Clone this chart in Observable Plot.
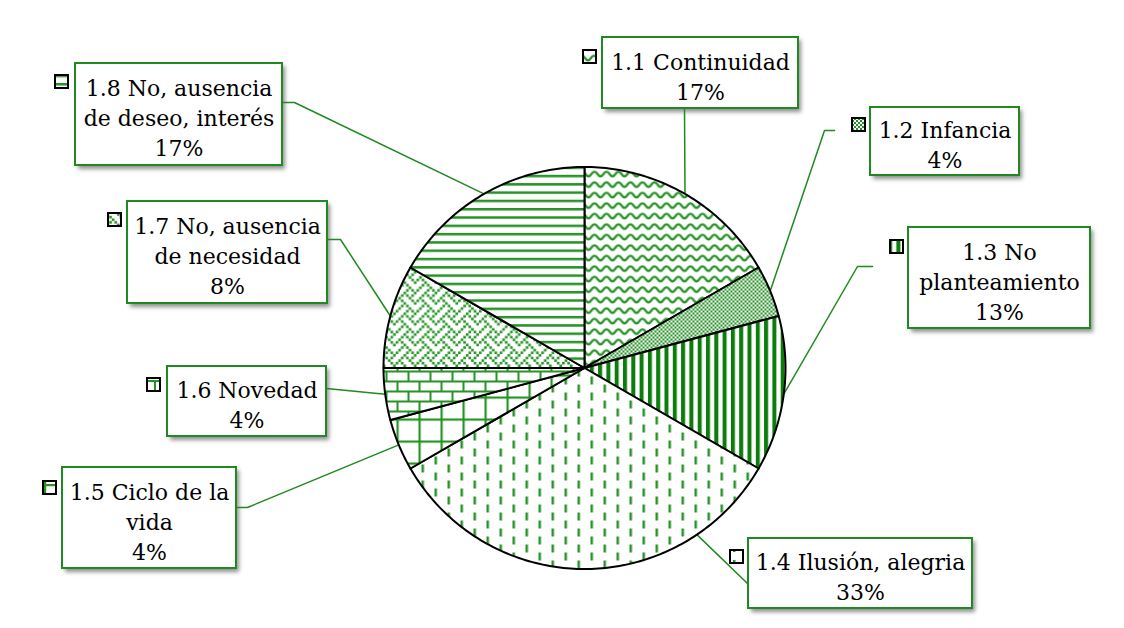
<!DOCTYPE html>
<html>
<head>
<meta charset="utf-8">
<script src="https://cdn.jsdelivr.net/npm/d3@7"></script>
<script src="https://cdn.jsdelivr.net/npm/@observablehq/plot@0.6"></script>
<style>
  html, body { margin: 0; padding: 0; background: #fff; }
  #chart { width: 1124px; height: 628px; }
</style>
</head>
<body>
<div id="chart"></div>
<script>
// ---- data ----
const categories = [
  "1.1 Continuidad",
  "1.2 Infancia",
  "1.3 No planteamiento",
  "1.4 Ilusión, alegria",
  "1.5 Ciclo de la vida",
  "1.6 Novedad",
  "1.7 No, ausencia de necesidad",
  "1.8 No, ausencia de deseo, interés"
];
const values = [4, 1, 3, 8, 1, 1, 2, 4];

// ---- layout (pixels) ----
const W = 1124, H = 628;
const cx = 584, cy = 367.5, R = 201;
const GREEN = "#1f8a1f";
const PAT = "#259325";
const boxes = [
  {x1: 602, x2: 798, y1: 37, y2: 108, kx: 583, ky: 50, brk: 0, lead: [[684, 108]], ang: null},
  {x1: 870, x2: 1019, y1: 107, y2: 175, kx: 852, ky: 118, brk: 0, lead: [[834, 130], [824, 130]], ang: null},
  {x1: 908, x2: 1090, y1: 227, y2: 328, kx: 890, ky: 240, brk: 2, lead: [[872, 266], [857, 266]], ang: null},
  {x1: 748, x2: 972, y1: 538, y2: 608, kx: 730, ky: 550, brk: 0, lead: [[747, 583]], ang: 146},
  {x1: 62, x2: 236, y1: 467, y2: 568, kx: 43, ky: 481, brk: 4, lead: [[236, 507], [247, 507]], ang: null},
  {x1: 167, x2: 326, y1: 366, y2: 436, kx: 147, ky: 378, brk: 0, lead: [[326, 388]], ang: null},
  {x1: 127, x2: 327, y1: 201, y2: 303, kx: 108, ky: 213, brk: 3, lead: [[327, 239], [340, 239]], ang: null},
  {x1: 75, x2: 282, y1: 63, y2: 165, kx: 55, ky: 75, brk: 3, lead: [[282, 102], [294, 102]], ang: null}
];
const KEY = 13;

// ---- derived ----
const total = d3.sum(values);
const arcs = d3.pie().sort(null).startAngle(0).endAngle(2 * Math.PI)(values);
const pt = (a, r = R) => [cx + r * Math.sin(a), cy - r * Math.cos(a)];

const slicePts = [];
arcs.forEach((a, i) => {
  slicePts.push({s: i, x: cx, y: cy});
  const n = Math.max(4, Math.ceil((a.endAngle - a.startAngle) / (Math.PI / 180)));
  for (let k = 0; k <= n; k++) {
    const t = a.startAngle + (a.endAngle - a.startAngle) * k / n;
    const [x, y] = pt(t);
    slicePts.push({s: i, x, y});
  }
  slicePts.push({s: i, x: cx, y: cy});
});

const leaderPts = [];
boxes.forEach((b, i) => {
  b.lead.forEach(([x, y]) => leaderPts.push({s: i, x, y}));
  const a = b.ang != null ? b.ang * Math.PI / 180 : (arcs[i].startAngle + arcs[i].endAngle) / 2;
  const [x, y] = pt(a);
  leaderPts.push({s: i, x, y});
});

const labels = categories.map((c, i) => {
  const b = boxes[i];
  const words = c.split(" ");
  const name = b.brk ? words.slice(0, b.brk).join(" ") + "\n" + words.slice(b.brk).join(" ") : c;
  return {i, text: name + "\n" + Math.round(values[i] / total * 100) + "%", x: (b.x1 + b.x2) / 2, y: (b.y1 + b.y2) / 2 + 2};
});
const boxData = boxes.map((b, i) => ({...b, i}));

const chart = Plot.plot({
  width: W, height: H,
  margin: 0,
  x: {domain: [0, W], range: [0, W], axis: null},
  y: {domain: [0, H], range: [0, H], axis: null},
  color: {type: "identity"},
  marks: [
    Plot.line(leaderPts, {x: "x", y: "y", z: "s", stroke: GREEN, strokeWidth: 1.5, curve: "linear"}),
    Plot.rect(boxData, {x1: d => d.x1 + 3, x2: d => d.x2 + 3, y1: d => d.y1 + 3, y2: d => d.y2 + 4, fill: "#606061", fillOpacity: 0.7}),
    Plot.rect(boxData, {x1: "x1", x2: "x2", y1: "y1", y2: "y2", fill: "white", stroke: GREEN, strokeWidth: 2}),
    Plot.rect(boxData, {x1: "kx", x2: d => d.kx + KEY, y1: "ky", y2: d => d.ky + KEY, fill: d => `url(#pat${d.i})`, stroke: "black", strokeWidth: 2}),
    Plot.text(labels, {x: "x", y: "y", text: "text", fontSize: 22, lineHeight: 1.37, fill: "#000", textAnchor: "middle", fontFamily: "DejaVu Serif"}),
    Plot.line(slicePts, {x: "x", y: "y", z: "s", fill: d => `url(#pat${d.s})`, stroke: "black", strokeWidth: 2, strokeLinejoin: "round", curve: "linear"})
  ]
});

// ---- patterns ----
const svg = d3.select(chart);
const defs = svg.insert("defs", ":first-child");
const filt = defs.append("filter").attr("id", "shadow").attr("x", "-10%").attr("y", "-10%").attr("width", "130%").attr("height", "140%");
filt.append("feGaussianBlur").attr("stdDeviation", 2);
svg.selectAll('g[fill="#606061"]').attr("filter", "url(#shadow)");

function pattern(id, w, h) {
  const p = defs.append("pattern").attr("id", id).attr("patternUnits", "userSpaceOnUse").attr("width", w).attr("height", h);
  p.append("rect").attr("width", w).attr("height", h).attr("fill", "white");
  return p;
}
// 1.1 wave
{
  const p = pattern("pat0", 12, 10.5);
  p.append("path").attr("d", "M-6,3.2 C-3,3.2 -3,7.8 0,7.8 S3,3.2 6,3.2 S9,7.8 12,7.8 S15,3.2 18,3.2")
    .attr("fill", "none").attr("stroke", PAT).attr("stroke-width", 2.3);
}
// 1.2 fine checker
{
  const p = pattern("pat1", 4, 4);
  p.append("rect").attr("x", 0).attr("y", 0).attr("width", 2).attr("height", 2).attr("fill", PAT);
  p.append("rect").attr("x", 2).attr("y", 2).attr("width", 2).attr("height", 2).attr("fill", PAT);
}
// 1.3 vertical stripes
{
  const p = pattern("pat2", 8.3, 10);
  p.append("rect").attr("x", 0).attr("y", 0).attr("width", 4).attr("height", 10).attr("fill", "#0a7d0a");
}
// 1.4 dashed vertical
{
  const p = pattern("pat3", 26, 16);
  p.append("rect").attr("x", 5).attr("y", 0).attr("width", 2.5).attr("height", 8).attr("fill", PAT);
  p.append("rect").attr("x", 18).attr("y", 8).attr("width", 2.5).attr("height", 8).attr("fill", PAT);
}
// 1.5 large grid
{
  const p = pattern("pat4", 22, 22);
  p.append("rect").attr("x", 0).attr("y", 0).attr("width", 2.2).attr("height", 22).attr("fill", PAT);
  p.append("rect").attr("x", 0).attr("y", 0).attr("width", 22).attr("height", 2.2).attr("fill", PAT);
}
// 1.6 horizontal brick
{
  const p = pattern("pat5", 22, 20);
  p.append("rect").attr("x", 0).attr("y", 0).attr("width", 22).attr("height", 2).attr("fill", PAT);
  p.append("rect").attr("x", 0).attr("y", 10).attr("width", 22).attr("height", 2).attr("fill", PAT);
  p.append("rect").attr("x", 0).attr("y", 0).attr("width", 2).attr("height", 10).attr("fill", PAT);
  p.append("rect").attr("x", 11).attr("y", 10).attr("width", 2).attr("height", 10).attr("fill", PAT);
}
// 1.7 weave (8x8 bitmap)
{
  const bits = [0x11, 0x2a, 0x44, 0xa2, 0x11, 0x28, 0x44, 0x8a];
  const s = 2.6;
  const p = pattern("pat6", 8 * s, 8 * s);
  bits.forEach((b, r) => {
    for (let c = 0; c < 8; c++) {
      if (b & (0x80 >> c)) p.append("rect").attr("x", c * s).attr("y", r * s).attr("width", s).attr("height", s).attr("fill", PAT);
    }
  });
}
// 1.8 horizontal lines
{
  const p = pattern("pat7", 10, 8.3);
  p.append("rect").attr("x", 0).attr("y", 0).attr("width", 10).attr("height", 2.5).attr("fill", PAT);
}

document.getElementById("chart").appendChild(chart);
</script>
</body>
</html>
